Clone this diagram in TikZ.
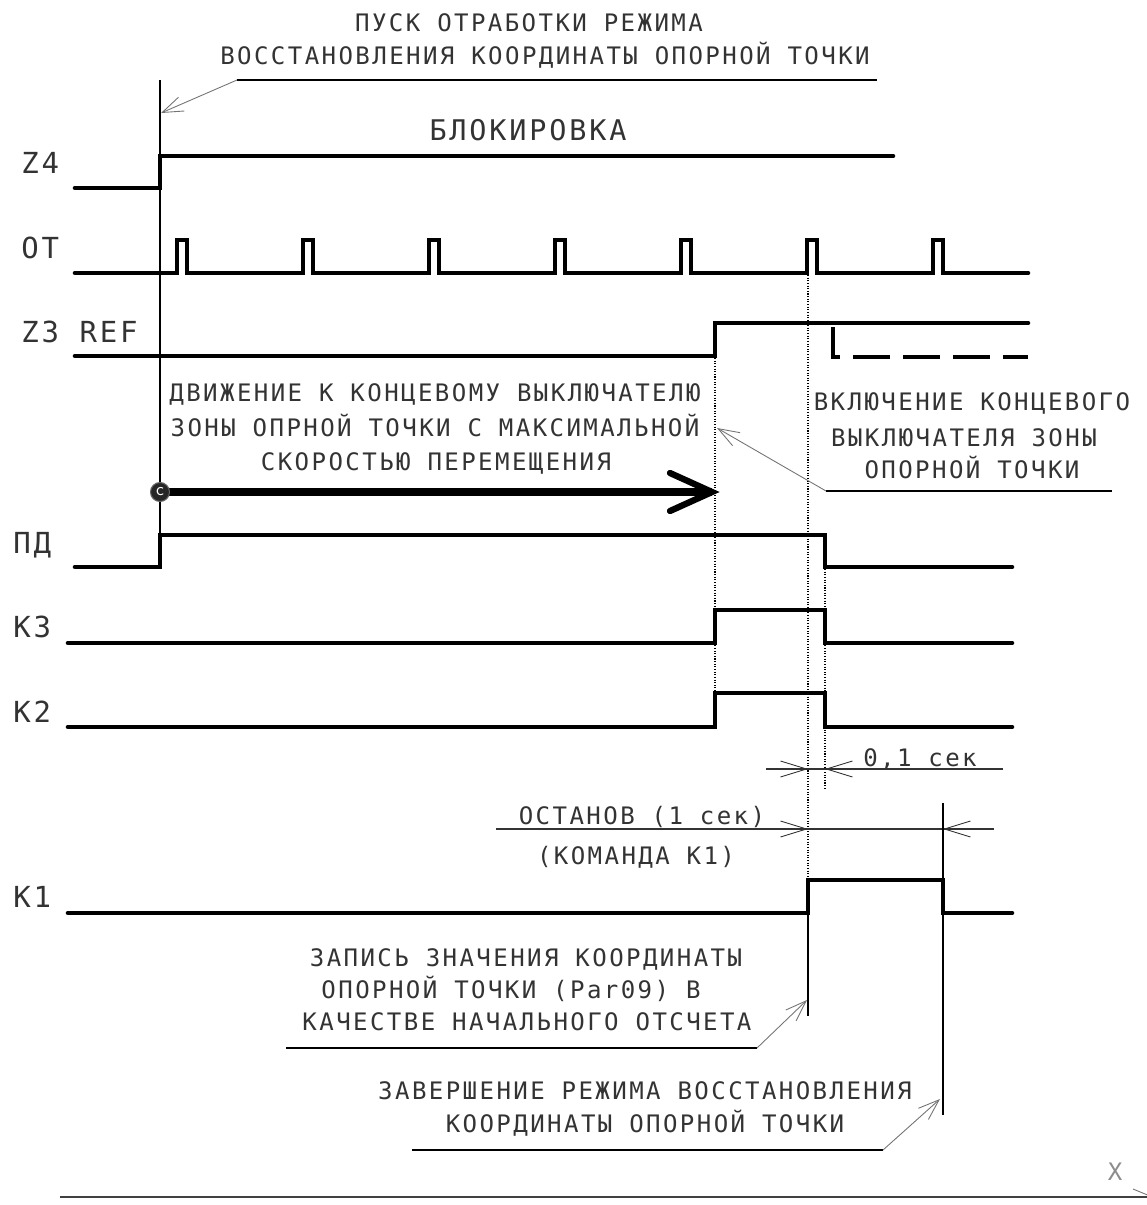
\documentclass[tikz,border=0pt]{standalone}
\usepackage{fontspec}
\newfontfamily\cad[LetterSpace=10]{DejaVu Sans Mono}
\newfontfamily\cadn{DejaVu Sans Mono}
\usetikzlibrary{arrows.meta}
\begin{document}
\begin{tikzpicture}[x=0.02cm,y=-0.02cm,
  sig/.style={line width=2.6pt, line cap=round, line join=miter},
  thinln/.style={line width=0.6pt},
  lead/.style={line width=0.5pt, black!55},
  leadtip/.style={-{Straight Barb[length=4.2mm,width=3mm,line width=0.5pt]}},
  dimtip/.style={-{Straight Barb[length=5.2mm,width=3.2mm,line width=0.5pt]}},
  dotln/.style={line width=0.6pt, dash pattern=on 0.6pt off 0.9pt},
  txt/.style={font={\cad\fontsize{13.7}{16}\selectfont}, inner sep=0pt, text=black!80, anchor=base},
  bigtxt/.style={font={\cad\fontsize{16.2}{19}\selectfont}, inner sep=0pt, text=black!80, anchor=base},
  lbl/.style={font={\cad\fontsize{16.5}{19}\selectfont}, inner sep=0pt, text=black!80, anchor=base west},
]
\useasboundingbox (0,0) rectangle (1147,1205);

% ---------- signal labels ----------
\node[lbl] (lz4) at (21,173) {Z4};
\node[lbl] (lot) at (21,258) {ОТ};
\node[lbl] (lz3) at (21,342) {Z3 REF};
\node[lbl] (lpd) at (13,553) {ПД};
\node[lbl] (lk3) at (13,637) {К3};
\node[lbl] (lk2) at (13,722) {К2};
\node[lbl] (lk1) at (13,907) {К1};

% ---------- start line and top leader ----------
\coordinate (s0) at (160,80);
\coordinate (s1) at (160,535);
\draw[thinln] (s0) -- (s1);
\node[txt] (t1) at (529,31) {ПУСК ОТРАБОТКИ РЕЖИМА};
\node[txt] (t2) at (545,64) {ВОССТАНОВЛЕНИЯ КООРДИНАТЫ ОПОРНОЙ ТОЧКИ};
\coordinate (u1a) at (237,80);
\coordinate (u1b) at (877,80);
\coordinate (u1t) at (161,113);
\draw[thinln] (u1a) -- (u1b);
\draw[lead,leadtip] (u1a) -- (u1t);

% ---------- Z4 ----------
\node[bigtxt] (blk) at (528,140) {БЛОКИРОВКА};
\draw[sig] (75,188) -- (160,188) -- (160,156) -- (893,156);

% ---------- OT pulses ----------
\draw[sig] (75,273) foreach \p in {177,303,429,555,681,807,933} { -- (\p,273) -- (\p,240) -- (\p+10,240) -- (\p+10,273) } -- (1028,273);

% ---------- Z3 REF ----------
\draw[sig] (75,356) -- (715,356) -- (715,323) -- (1028,323);
\draw[sig, line cap=butt, dash pattern=on 7.4mm off 2.6mm] (833,327) -- (833,357) -- (1028,357);

% ---------- dotted guide lines ----------
\draw[dotln] (715,358) -- (715,693);
\draw[dotln] (808,275) -- (808,880);
\draw[dotln] (825,569) -- (825,790);

% ---------- movement arrow and text ----------
\node[txt] (mv1) at (435,401) {ДВИЖЕНИЕ К КОНЦЕВОМУ ВЫКЛЮЧАТЕЛЮ};
\node[txt] (mv2) at (435,436) {ЗОНЫ ОПРНОЙ ТОЧКИ С МАКСИМАЛЬНОЙ};
\node[txt] (mv3) at (436,470) {СКОРОСТЬЮ ПЕРЕМЕЩЕНИЯ};
\coordinate (atip) at (712,492);
\coordinate (c0) at (160,492);
\draw[line width=4.8pt] (c0) -- (atip);
\draw[line width=3.6pt, line cap=round, line join=miter] (670,473) -- (atip) -- (670,511);
\node[circle, fill=black!85, draw=black!60, line width=0.6pt, inner sep=0pt, minimum size=0.38cm,
      text=white, font={\sffamily\fontsize{10}{10}\selectfont}] (cc) at (c0) {c};

% ---------- right text leader ----------
\node[txt] (r1) at (972,410) {ВКЛЮЧЕНИЕ КОНЦЕВОГО};
\node[txt] (r2) at (964,446) {ВЫКЛЮЧАТЕЛЯ ЗОНЫ};
\node[txt] (r3) at (972,478) {ОПОРНОЙ ТОЧКИ};
\coordinate (u2a) at (826,491);
\coordinate (u2b) at (1112,491);
\coordinate (u2t) at (717,428);
\draw[thinln] (u2a) -- (u2b);
\draw[lead,leadtip] (u2a) -- (u2t);

% ---------- PD, K3, K2 ----------
\draw[sig] (75,567) -- (160,567) -- (160,535) -- (825,535) -- (825,567) -- (1012,567);
\draw[sig] (68,643) -- (715,643) -- (715,610) -- (825,610) -- (825,643) -- (1012,643);
\draw[sig] (68,727) -- (715,727) -- (715,693) -- (825,693) -- (825,727) -- (1012,727);

% ---------- 0,1 sec dimension ----------
\node[txt] (d01) at (920,766) {0,1 сек};
\coordinate (d1a) at (766,769);
\coordinate (d1b) at (1003,769);
\coordinate (d1l) at (808,769);
\coordinate (d1r) at (825,769);
\draw[thinln, black!80] (d1a) -- (d1b);
\draw[thinln, black!80, dimtip] (780,769) -- (d1l);
\draw[thinln, black!80, dimtip] (850,769) -- (d1r);

% ---------- stop dimension ----------
\node[txt] (ost) at (642,824) {ОСТАНОВ (1 сек)};
\node[txt] (cmd) at (636,864) {(КОМАНДА К1)};
\coordinate (d2a) at (496,829);
\coordinate (d2b) at (994,829);
\coordinate (d2l) at (808,829);
\coordinate (d2r) at (943,829);
\draw[thinln, black!80] (d2a) -- (d2b);
\draw[thinln, black!80, dimtip] (780,829) -- (d2l);
\draw[thinln, black!80, dimtip] (970,829) -- (d2r);

% ---------- K1 ----------
\draw[sig] (68,913) -- (808,913) -- (808,880) -- (943,880) -- (943,913) -- (1012,913);
\draw[thinln] (808,880) -- (808,1016);
\draw[thinln] (943,803) -- (943,1115);

% ---------- record leader ----------
\node[txt] (z1) at (526,966) {ЗАПИСЬ ЗНАЧЕНИЯ КООРДИНАТЫ};
\node[txt] (z2) at (511,998) {ОПОРНОЙ ТОЧКИ (Par09) В};
\node[txt] (z3) at (527,1030) {КАЧЕСТВЕ НАЧАЛЬНОГО ОТСЧЕТА};
\coordinate (u3a) at (286,1048);
\coordinate (u3b) at (757,1048);
\coordinate (u3t) at (807,1000);
\draw[thinln] (u3a) -- (u3b);
\draw[lead,leadtip] (u3b) -- (u3t);

% ---------- finish leader ----------
\node[txt] (e1) at (645,1099) {ЗАВЕРШЕНИЕ РЕЖИМА ВОССТАНОВЛЕНИЯ};
\node[txt] (e2) at (645,1132) {КООРДИНАТЫ ОПОРНОЙ ТОЧКИ};
\coordinate (u4a) at (412,1150);
\coordinate (u4b) at (883,1150);
\coordinate (u4t) at (940,1099);
\draw[thinln] (u4a) -- (u4b);
\draw[lead,leadtip] (u4b) -- (u4t);

% ---------- X axis ----------
\node[txt, text=black!45] (xl) at (1115,1180) {X};
\coordinate (xa) at (60,1197);
\coordinate (xb) at (1147,1197);
\draw[line width=1.3pt, black!75] (xa) -- (xb);
\draw[lead] (1133,1189) -- (1150,1196);
\end{tikzpicture}
\end{document}
